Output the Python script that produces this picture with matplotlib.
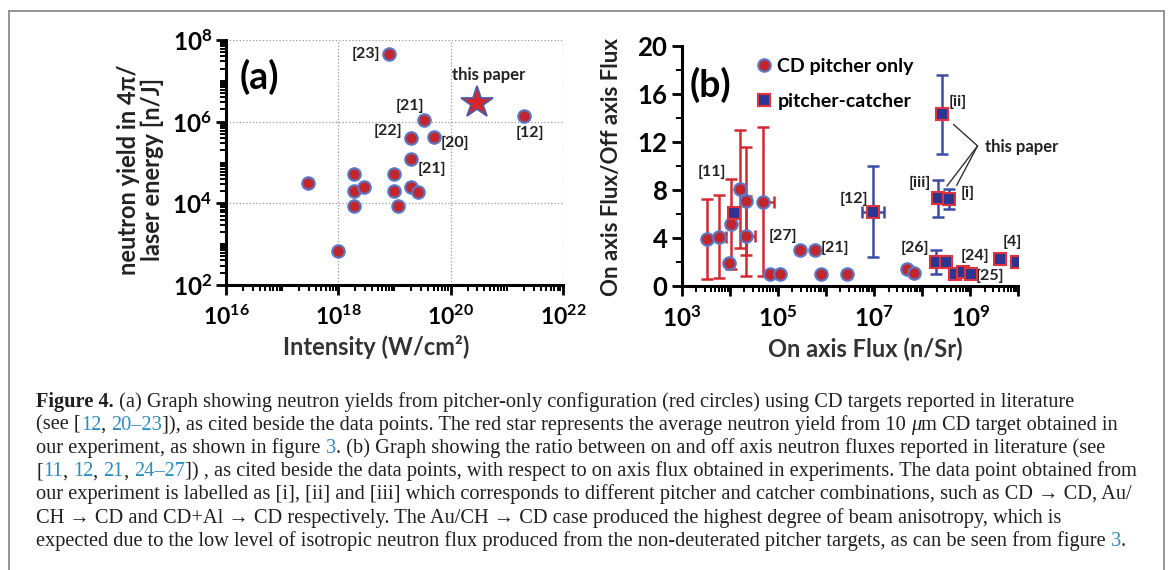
import matplotlib
matplotlib.use("Agg")
import numpy as np
import matplotlib.pyplot as plt
from matplotlib.ticker import FixedLocator, LogLocator, FuncFormatter, MultipleLocator, NullFormatter
from matplotlib.lines import Line2D

# ---- data (a): neutron yield vs intensity, pitcher-only CD targets
intensity_a = [7.9e18, 2.0e21, 3.4e19, 1.95e19, 5.0e19, 1.95e19, 2.9e17, 1.9e18, 1.9e18,
               2.9e18, 1.9e18, 9.8e18, 9.8e18, 1.15e19, 1.95e19, 2.6e19, 1.0e18]
yield_a = [4.5e7, 1.4e6, 1.1e6, 3.9e5, 4.3e5, 1.2e5, 3.2e4, 5.1e4, 2.0e4,
           2.5e4, 8.7e3, 5.1e4, 2.0e4, 8.7e3, 2.5e4, 1.9e4, 6.9e2]
labels_a = ["[23]", "[12]", "[21]", "[22]", "[20]", "[21]", "", "", "",
            "", "", "", "", "", "", "", ""]
star_intensity = [2.9e20]
star_yield = [2.9e6]

# ---- data (b): on/off axis ratio vs on axis flux
flux_cd = [3.3e3, 6.0e3, 1.07e4, 9.8e3, 1.62e4, 2.2e4, 2.2e4, 4.9e4, 6.8e4, 1.12e5,
           2.95e5, 5.9e5, 7.9e5, 2.7e6, 4.9e7, 6.8e7]
ratio_cd = [3.9, 4.1, 5.15, 1.95, 8.05, 7.1, 4.15, 7.0, 0.97, 0.97,
            3.0, 3.0, 0.97, 1.0, 1.45, 1.05]
yerr_cd = [3.3, 3.45, 3.75, 0, 4.9, 4.5, 3.3, 6.2, 0, 0, 0, 0, 0, 0, 0, 0]
xerr_hi_cd = [0, 2.3e3, 0, 0, 0, 0, 1.1e4, 3.6e4, 0, 0, 0, 0, 0, 0, 0, 0]
labels_cd = ["", "", "", "", "", "", "", "", "", "", "[27]", "[21]", "", "", "[26]", ""]

flux_pc = [1.2e4, 9.5e6, 2.6e8, 2.1e8, 3.7e8, 1.9e8, 3.2e8, 4.8e8, 7.2e8, 1.05e9, 4.2e9, 9.3e9]
ratio_pc = [6.05, 6.2, 14.3, 7.3, 7.25, 1.97, 1.97, 0.97, 1.2, 0.97, 2.25, 1.97]
yerr_pc = [0, 3.75, 3.3, 1.53, 0.8, 1.0, 0, 0, 0, 0, 0, 0]
xerr_lo_pc = [0, 3.9e6, 0, 0, 0, 0, 0, 0, 0, 0, 0, 0]
xerr_hi_pc = [0, 6.6e6, 0, 0, 0, 0, 0, 0, 0, 0, 0, 0]
labels_pc = ["[11]", "[12]", "[ii]", "[iii]", "[i]", "", "", "", "[24]", "[25]", "[4]", ""]
this_paper_pc = [2, 3, 4]

RED = "#c1262d"
RED_BAR = "#d02a33"
EDGE_BLUE = "#5a78c8"
NAVY = "#2b3592"
BLUE_BAR = "#3c4ba8"

plt.rcParams["font.family"] = ["Lato", "DejaVu Sans"]
plt.rcParams["mathtext.fontset"] = "custom"
plt.rcParams["mathtext.rm"] = "Lato"
plt.rcParams["mathtext.bf"] = "Lato:bold"
plt.rcParams["mathtext.it"] = "Lato:italic"

W, H = 1171, 570
fig = plt.figure(figsize=(W / 100, H / 100), dpi=100)


def px_axes(left, top, right, bottom):
    # axes rectangle from pixel edges
    return fig.add_axes([left / W, 1 - bottom / H, (right - left) / W, (bottom - top) / H])


def style_axes(ax):
    for s in ["top", "right"]:
        ax.spines[s].set_visible(False)
    for s in ["left", "bottom"]:
        ax.spines[s].set_linewidth(2.2)
    ax.tick_params(which="major", direction="out", length=7, width=2, labelsize=17.5, pad=3)
    ax.tick_params(axis="x", which="major", pad=7, labelsize=16.5)
    ax.tick_params(which="minor", direction="out", length=4, width=1.4)


def pow_label(v, pos):
    return r"$\mathbf{10^{%d}}$" % int(round(np.log10(v)))


def pow_label_odd(v, pos):
    e = int(round(np.log10(v)))
    return r"$\mathbf{10^{%d}}$" % e if e % 2 else ""


# ================= panel (a) =================
ax = px_axes(226, 40, 563, 285)
ax.set_xscale("log")
ax.set_yscale("log")
ax.set_xlim(1e16, 1e22)
ax.set_ylim(1e2, 1e8)
style_axes(ax)
ax.xaxis.set_major_locator(FixedLocator(10.0 ** np.arange(16, 23, 2)))
ax.yaxis.set_major_locator(FixedLocator(10.0 ** np.arange(2, 9, 2)))
ax.xaxis.set_minor_locator(LogLocator(base=10, subs=np.arange(1, 10), numticks=50))
ax.yaxis.set_minor_locator(LogLocator(base=10, subs=np.arange(1, 10), numticks=50))
ax.xaxis.set_major_formatter(FuncFormatter(pow_label))
ax.yaxis.set_major_formatter(FuncFormatter(pow_label))
ax.xaxis.set_minor_formatter(NullFormatter())
ax.yaxis.set_minor_formatter(NullFormatter())
ax.grid(True, which="major", linestyle=":", color="#9a9a9a", lw=0.9)
ax.set_axisbelow(True)

ax.plot(intensity_a, yield_a, "o", ms=9, mfc=RED, mec=EDGE_BLUE, mew=1.5, clip_on=False, zorder=3)
ax.plot(star_intensity, star_yield, "*", ms=24, mfc="#d4262b", mec="#4d5ba8", mew=1.3, zorder=3)

offs_a = {0: (-23, 0), 1: (6, -17), 2: (-14, 14), 3: (-23, 7), 4: (21, -6), 5: (21, -10)}
for i, lab in enumerate(labels_a):
    if lab:
        ax.annotate(lab, (intensity_a[i], yield_a[i]), xytext=offs_a[i], textcoords="offset pixels",
                    ha="center", va="center", fontsize=11.5, fontweight="bold", color="#222222")
ax.annotate("this paper", (star_intensity[0], star_yield[0]), xytext=(12, 28), textcoords="offset pixels",
            ha="center", va="center", fontsize=12, fontweight="bold", color="#222222")

ax.text(0.10, 0.849, "(a)", transform=ax.transAxes, ha="center", va="center", fontsize=27, fontweight="bold")
ax.set_xlabel("Intensity (W/cm²)", fontsize=17, fontweight="bold", color="#333333")
ax.xaxis.set_label_coords(0.447, -0.205)
ax.set_ylabel("neutron yield in 4π/\nlaser energy [n/J]", fontsize=17, fontweight="bold",
              color="#222222", linespacing=1.05)
ax.yaxis.set_label_coords(-0.184, 0.47)

# ================= panel (b) =================
bx = px_axes(681.7, 45.7, 1018.3, 286)
bx.set_xscale("log")
bx.set_xlim(1e3, 1e10)
bx.set_ylim(0, 20)
style_axes(bx)
bx.xaxis.set_major_locator(LogLocator(base=10, numticks=20))
bx.xaxis.set_minor_locator(LogLocator(base=10, subs=np.arange(2, 10), numticks=50))
bx.xaxis.set_major_formatter(FuncFormatter(pow_label_odd))
bx.xaxis.set_minor_formatter(NullFormatter())
bx.yaxis.set_major_locator(MultipleLocator(4))
bx.yaxis.set_minor_locator(MultipleLocator(2))
bx.yaxis.set_major_formatter(FuncFormatter(lambda v, p: r"$\mathbf{%d}$" % v))
bx.tick_params(axis="y", which="major", labelsize=18.5)
bx.tick_params(axis="x", which="major", labelsize=17.5)

bx.errorbar(flux_cd, ratio_cd, yerr=yerr_cd, xerr=[np.zeros(len(flux_cd)), xerr_hi_cd],
            fmt="none", ecolor=RED_BAR, elinewidth=1.8, capsize=4, capthick=1.8, zorder=2)
bx.errorbar(flux_pc, ratio_pc, yerr=yerr_pc, xerr=[xerr_lo_pc, xerr_hi_pc],
            fmt="none", ecolor=BLUE_BAR, elinewidth=1.8, capsize=4, capthick=1.8, zorder=2)
bx.plot(flux_cd, ratio_cd, "o", ms=9, mfc=RED, mec=EDGE_BLUE, mew=1.5, zorder=3,
        label="CD pitcher only")
bx.plot(flux_pc, ratio_pc, "s", ms=9, mfc=NAVY, mec="#e0333b", mew=1.5, zorder=4,
        label="pitcher-catcher")

offs_cd = {10: (-18, 14), 11: (20, 2), 14: (8, 21)}
for i, lab in enumerate(labels_cd):
    if lab:
        bx.annotate(lab, (flux_cd[i], ratio_cd[i]), xytext=offs_cd[i], textcoords="offset pixels",
                    ha="center", va="center", fontsize=11.5, fontweight="bold", color="#222222",
                    annotation_clip=False)
offs_pc = {0: (-22, 41), 1: (-19, 13), 2: (16, 12), 3: (-18, 15), 4: (18, 6),
           8: (12, 16), 9: (19, -2), 10: (12, 17)}
for i, lab in enumerate(labels_pc):
    if lab:
        bx.annotate(lab, (flux_pc[i], ratio_pc[i]), xytext=offs_pc[i], textcoords="offset pixels",
                    ha="center", va="center", fontsize=11.5, fontweight="bold", color="#222222",
                    annotation_clip=False)

bx.text(0.901, 0.58, "this paper", transform=bx.transAxes, ha="left", va="center",
        fontsize=12, fontweight="bold", color="#222222", clip_on=False)
for i in this_paper_pc:
    bx.annotate("", (flux_pc[i], ratio_pc[i]), xytext=(0.879, 0.583), textcoords="axes fraction",
                arrowprops=dict(arrowstyle="-", color="#333333", lw=1.0, shrinkA=0, shrinkB=11))

bx.legend(loc="upper left", bbox_to_anchor=(0.18, 1.005), frameon=False,
          prop={"weight": "bold", "size": 14}, handlelength=0.8, handletextpad=0.3,
          labelspacing=0.9, borderpad=0.2)

bx.text(0.084, 0.836, "(b)", transform=bx.transAxes, ha="center", va="center", fontsize=27, fontweight="bold")
bx.set_xlabel("On axis Flux (n/Sr)", fontsize=17, fontweight="bold", color="#333333")
bx.xaxis.set_label_coords(0.545, -0.215)
bx.set_ylabel("On axis Flux/Off axis Flux", fontsize=16, fontweight="bold", color="#222222")
bx.yaxis.set_label_coords(-0.177, 0.495)

# ================= frame + caption =================
frame_kw = dict(transform=fig.transFigure, color="#8c8c8c", lw=1.3)
fig.add_artist(Line2D([8.5 / W, 8.5 / W], [0, 1 - 11 / H], **frame_kw))
fig.add_artist(Line2D([8.5 / W, 1163.5 / W], [1 - 11 / H, 1 - 11 / H], **frame_kw))
fig.add_artist(Line2D([1163.5 / W, 1163.5 / W], [0, 1 - 11 / H], **frame_kw))

caption = [
    [("Figure 4.", "b"), (" (a) Graph showing neutron yields from pitcher-only configuration (red circles) "
                          "using CD targets reported in literature", "")],
    [("(see [", ""), ("12", "c"), (", ", ""), ("20–23", "c"),
     ("]), as cited beside the data points. The red star represents the average neutron yield from 10 ", ""),
     ("μ", "i"), ("m CD target obtained in", "")],
    [("our experiment, as shown in figure ", ""), ("3", "c"),
     (". (b) Graph showing the ratio between on and off axis neutron fluxes reported in literature (see", "")],
    [("[", ""), ("11", "c"), (", ", ""), ("12", "c"), (", ", ""), ("21", "c"), (", ", ""), ("24–27", "c"),
     ("]) , as cited beside the data points, with respect to on axis flux obtained in experiments. "
      "The data point obtained from", "")],
    [("our experiment is labelled as [i], [ii] and [iii] which corresponds to different pitcher and catcher "
      "combinations, such as CD → CD, Au/", "")],
    [("CH → CD and CD+Al → CD respectively. The Au/CH → CD case produced the highest degree of beam "
      "anisotropy, which is", "")],
    [("expected due to the low level of isotropic neutron flux produced from the non-deuterated pitcher "
      "targets, as can be seen from figure ", ""), ("3", "c"), (".", "")],
]

renderer = fig.canvas.get_renderer()
cap_font = dict(family=["Liberation Serif", "DejaVu Serif"], fontsize=14.7)


def seg_kw(kind):
    kw = dict(cap_font, color="#231f20")
    if kind == "b":
        kw["fontweight"] = "bold"
    elif kind == "c":
        kw["color"] = "#2a8cc6"
    elif kind == "i":
        kw["style"] = "italic"
    return kw


def text_width(s, kw):
    # measure with a bar at the end so trailing spaces count
    t1 = fig.text(0, 0, s + "|", **kw)
    t2 = fig.text(0, 0, "|", **kw)
    w = t1.get_window_extent(renderer).width - t2.get_window_extent(renderer).width
    t1.remove()
    t2.remove()
    return w


base_y = 406.7
for n, line in enumerate(caption):
    x = 36.0
    y = base_y + n * 23.2
    for s, kind in line:
        kw = seg_kw(kind)
        fig.text(x / W, 1 - y / H, s, va="baseline", ha="left", **kw)
        x += text_width(s, kw)

fig.savefig("out.png", dpi=100)
